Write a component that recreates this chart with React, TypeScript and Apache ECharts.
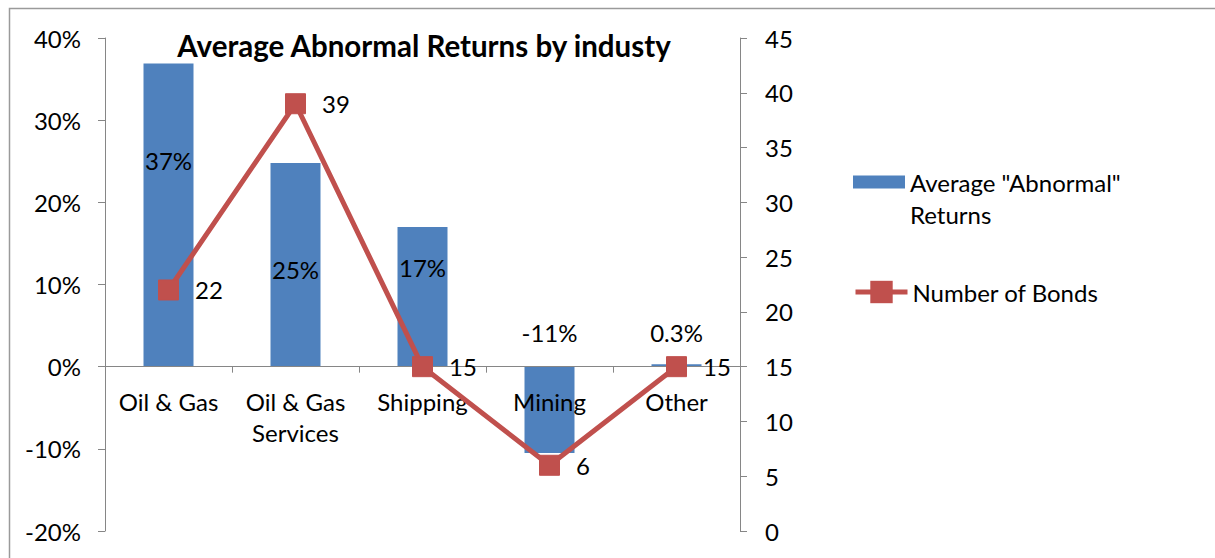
import React, { useEffect, useRef } from "react";
import * as echarts from "echarts";

const categories = ["Oil & Gas", "Oil & Gas\nServices", "Shipping", "Mining", "Other"];
const abnormalReturns = [0.369, 0.248, 0.17, -0.105, 0.003];
const returnLabels = ["37%", "25%", "17%", "-11%", "0.3%"];
const numberOfBonds = [22, 39, 15, 6, 15];
const leftTicks = { min: -0.2, max: 0.4, interval: 0.1 };
const rightTicks = { min: 0, max: 45, interval: 5 };

const barName = 'Average "Abnormal" Returns';
const lineName = "Number of Bonds";

const FONT = "Lato";
const FS = 24;
const barLabelOffsets = [-55, 5, -29, -77, -33];

export default function App() {
  const ref = useRef<HTMLDivElement>(null);
  useEffect(() => {
    if (!ref.current) return;
    const chart = echarts.init(ref.current, null, { renderer: "svg" });
    const axisColor = "#868686";
    const gridTop = 38;
    const gridBottom = 27;
    const plotH = 558 - gridTop - gridBottom;
    const zeroOffset = -(plotH * (0 - leftTicks.min)) / (leftTicks.max - leftTicks.min);
    chart.setOption({
      animation: false,
      backgroundColor: "#ffffff",
      textStyle: { fontFamily: FONT, color: "#000" },
      title: {
        text: "Average Abnormal Returns by industy",
        left: 419,
        textAlign: "center",
        top: 25,
        textStyle: { fontFamily: FONT, fontSize: 29.5, fontWeight: "bold", color: "#000" },
      },
      graphic: [
        {
          type: "rect",
          shape: { x: 9.5, y: 8.5, width: 1260, height: 600 },
          style: { fill: "none", stroke: "#9a9a9a", lineWidth: 1.5 },
          silent: true,
        },
        {
          type: "text",
          left: 910,
          top: 202,
          style: { text: "Returns", fontFamily: FONT, fontSize: FS, fill: "#000" },
          silent: true,
        },
      ],
      legend: [
        {
          data: [{ name: barName, icon: "rect" }],
          orient: "vertical",
          left: 853,
          top: 170,
          padding: 0,
          itemWidth: 52,
          itemHeight: 13,
          itemGap: 5,
          formatter: () => 'Average "Abnormal"',
          textStyle: { fontFamily: FONT, fontSize: FS, color: "#000" },
        },
        {
          data: [lineName],
          orient: "vertical",
          left: 853,
          top: 280,
          padding: 0,
          itemWidth: 52,
          itemHeight: 28,
          itemGap: 5,
          lineStyle: { width: 5, color: "#C0504D" },
          textStyle: { fontFamily: FONT, fontSize: FS, color: "#000" },
        },
      ],
      grid: { left: 105, right: 475, top: gridTop, bottom: gridBottom, containLabel: false, outerBoundsMode: "none" },
      xAxis: {
        type: "category",
        data: categories,
        boundaryGap: true,
        offset: zeroOffset,
        z: 3,
        axisLine: { onZero: false, lineStyle: { color: axisColor, width: 1 } },
        axisTick: { show: true, inside: false, length: 6, lineStyle: { color: axisColor } },
        axisLabel: { fontFamily: FONT, fontSize: FS, color: "#000", margin: 19, lineHeight: 31, interval: 0 },
      },
      yAxis: [
        {
          type: "value",
          min: leftTicks.min,
          max: leftTicks.max,
          interval: leftTicks.interval,
          position: "left",
          axisLine: { show: true, lineStyle: { color: axisColor } },
          axisTick: { show: true, length: 7, lineStyle: { color: axisColor } },
          splitLine: { show: false },
          axisLabel: {
            fontFamily: FONT,
            fontSize: FS,
            color: "#000",
            margin: 24,
            formatter: (v: number) => Math.round(v * 100) + "%",
          },
        },
        {
          type: "value",
          min: rightTicks.min,
          max: rightTicks.max,
          interval: rightTicks.interval,
          position: "right",
          axisLine: { show: true, lineStyle: { color: axisColor } },
          axisTick: { show: true, length: 7, lineStyle: { color: axisColor } },
          splitLine: { show: false },
          axisLabel: { fontFamily: FONT, fontSize: FS, color: "#000", margin: 25 },
        },
      ],
      series: [
        {
          name: barName,
          type: "bar",
          yAxisIndex: 0,
          barWidth: 50,
          z: 2,
          itemStyle: { color: "#4F81BD" },
          data: abnormalReturns.map((v, i) => ({
            value: v,
            label: {
              show: true,
              position: "inside",
              offset: [0, barLabelOffsets[i]],
              formatter: () => returnLabels[i],
              fontFamily: FONT,
              fontSize: FS,
              color: "#000",
            },
          })),
        },
        {
          name: lineName,
          type: "line",
          yAxisIndex: 1,
          symbol: "rect",
          symbolSize: 20,
          lineStyle: { color: "#C0504D", width: 5 },
          itemStyle: { color: "#C0504D", borderColor: "#C0504D" },
          label: {
            show: true,
            position: "right",
            distance: 16,
            fontFamily: FONT,
            fontSize: FS,
            color: "#000",
          },
          data: numberOfBonds,
          z: 5,
        },
      ],
    });
    return () => chart.dispose();
  }, []);
  return (
    <div
      ref={ref}
      style={{ position: "fixed", left: 0, top: 0, width: 1215, height: 558 }}
    />
  );
}
